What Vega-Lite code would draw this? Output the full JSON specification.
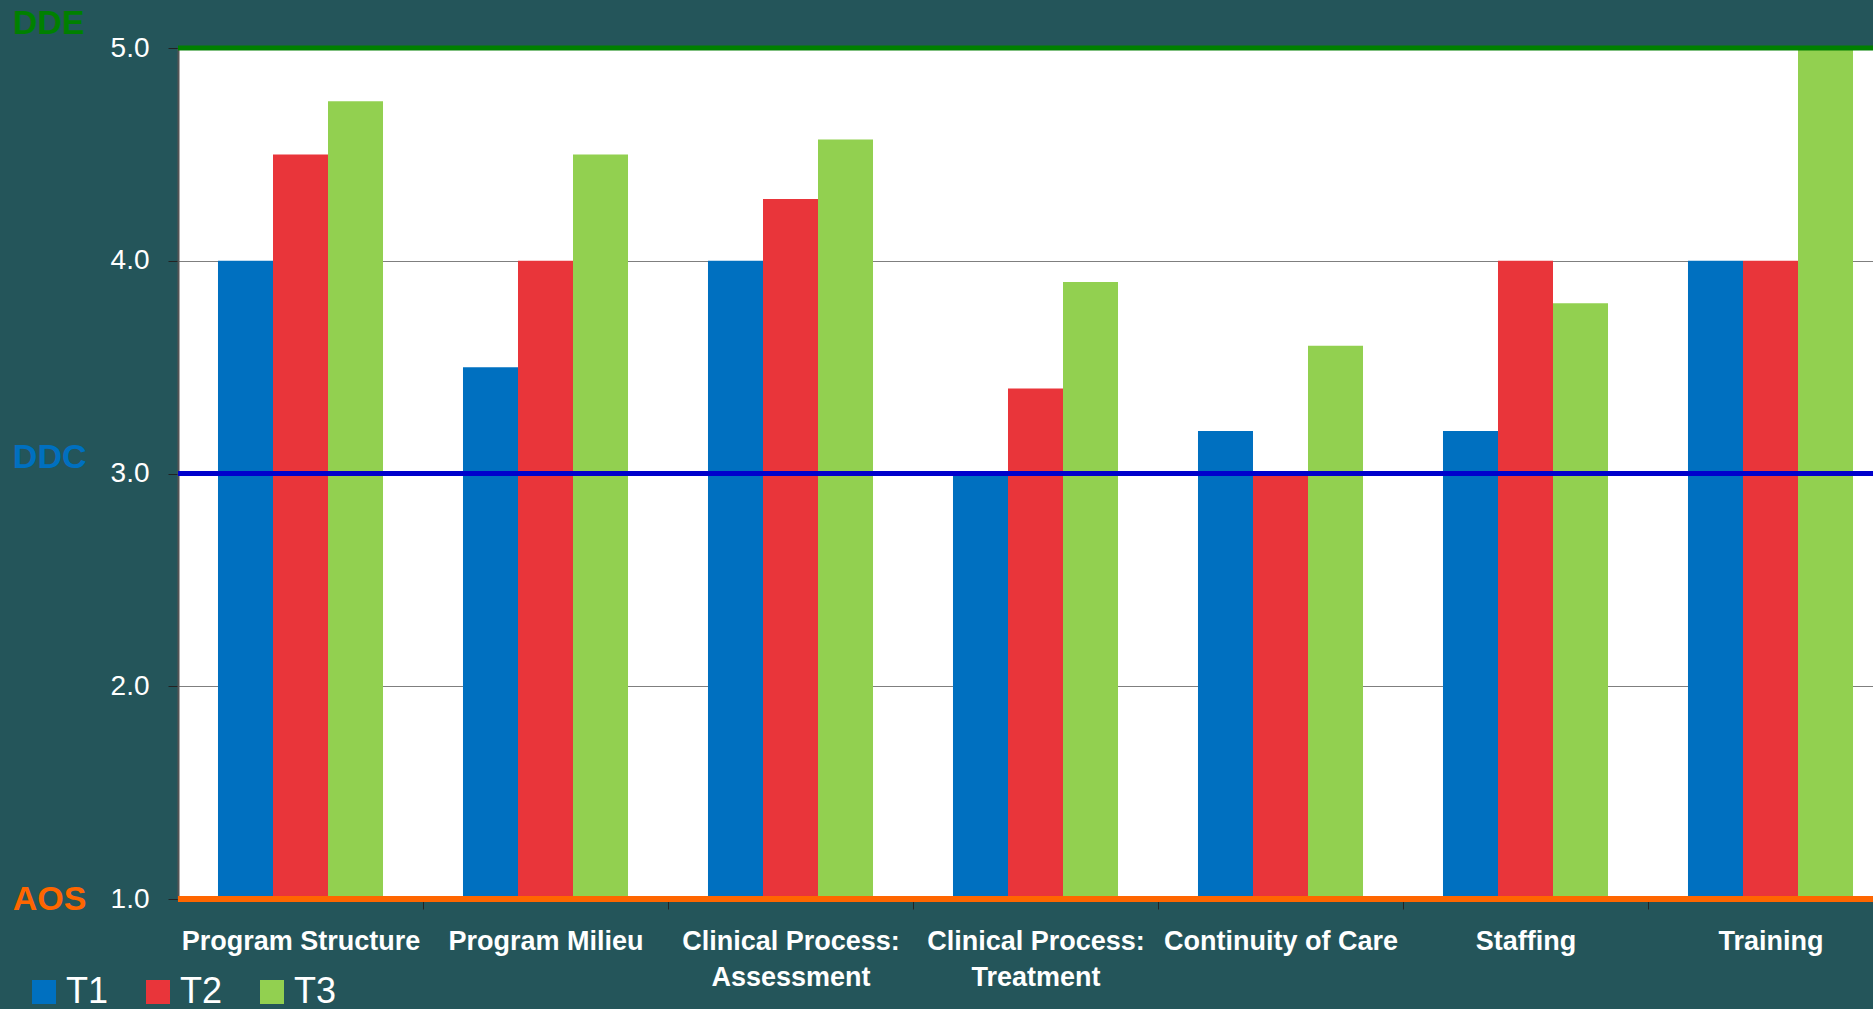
{
  "$schema": "https://vega.github.io/schema/vega-lite/v6.json",
  "width": 1695,
  "height": 851,
  "autosize": "none",
  "padding": {"left": 178, "top": 48, "right": 0, "bottom": 110},
  "background": "#24555a",
  "view": {"fill": "white", "stroke": null},
  "resolve": {"axis": {"y": "independent"}},
  "layer": [
    {
      "data": {
        "values": [
          {"category": "Program Structure", "time": "T1", "score": 4.0},
          {"category": "Program Structure", "time": "T2", "score": 4.5},
          {"category": "Program Structure", "time": "T3", "score": 4.75},
          {"category": "Program Milieu", "time": "T1", "score": 3.5},
          {"category": "Program Milieu", "time": "T2", "score": 4.0},
          {"category": "Program Milieu", "time": "T3", "score": 4.5},
          {"category": "Clinical Process: Assessment", "time": "T1", "score": 4.0},
          {"category": "Clinical Process: Assessment", "time": "T2", "score": 4.29},
          {"category": "Clinical Process: Assessment", "time": "T3", "score": 4.57},
          {"category": "Clinical Process: Treatment", "time": "T1", "score": 3.0},
          {"category": "Clinical Process: Treatment", "time": "T2", "score": 3.4},
          {"category": "Clinical Process: Treatment", "time": "T3", "score": 3.9},
          {"category": "Continuity of Care", "time": "T1", "score": 3.2},
          {"category": "Continuity of Care", "time": "T2", "score": 3.0},
          {"category": "Continuity of Care", "time": "T3", "score": 3.6},
          {"category": "Staffing", "time": "T1", "score": 3.2},
          {"category": "Staffing", "time": "T2", "score": 4.0},
          {"category": "Staffing", "time": "T3", "score": 3.8},
          {"category": "Training", "time": "T1", "score": 4.0},
          {"category": "Training", "time": "T2", "score": 4.0},
          {"category": "Training", "time": "T3", "score": 5.0}
        ]
      },
      "mark": {"type": "bar"},
      "encoding": {
        "x": {
          "field": "category",
          "type": "nominal",
          "sort": ["Program Structure", "Program Milieu", "Clinical Process: Assessment", "Clinical Process: Treatment", "Continuity of Care", "Staffing", "Training"],
          "scale": {"paddingInner": 0, "paddingOuter": 0, "range": [0, 1715]},
          "axis": {
            "title": null,
            "labelAngle": 0,
            "labelExpr": "indexof(datum.value, ': ') > 0 ? [slice(datum.value, 0, indexof(datum.value, ': ') + 1), slice(datum.value, indexof(datum.value, ': ') + 2)] : datum.value",
            "labelFont": "Liberation Sans",
            "labelFontSize": 27,
            "labelFontWeight": "bold",
            "labelColor": "white",
            "labelLineHeight": 36,
            "labelBaseline": "top",
            "labelPadding": 19,
            "labelLimit": 400,
            "tickOffset": 122.5,
            "labelOffset": -122.5,
            "tickSize": 10,
            "tickColor": "#222222",
            "domainColor": "#555555"
          }
        },
        "xOffset": {"field": "time", "type": "nominal", "scale": {"paddingInner": 0, "paddingOuter": 0.727}},
        "y": {
          "field": "score",
          "type": "quantitative",
          "scale": {"domain": [1, 5], "zero": false, "nice": false},
          "axis": {
            "orient": "left",
            "title": null,
            "values": [1, 2, 3, 4, 5],
            "format": ".1f",
            "labelFont": "Liberation Sans",
            "labelFontSize": 28,
            "labelColor": "white",
            "labelPadding": 19,
            "tickSize": 10,
            "tickColor": "#222222",
            "domainColor": "#555555",
            "domainWidth": 2,
            "gridColor": "#7f7f7f"
          }
        },
        "y2": {"datum": 1},
        "color": {
          "field": "time",
          "type": "nominal",
          "scale": {"domain": ["T1", "T2", "T3"], "range": ["#0070C0", "#E9353A", "#92D050"]},
          "legend": {
            "title": null,
            "orient": "none",
            "legendX": -152,
            "legendY": 926,
            "direction": "horizontal",
            "symbolType": "square",
            "symbolSize": 576,
            "symbolStrokeWidth": 0,
            "labelFont": "Liberation Sans",
            "labelFontSize": 36,
            "labelColor": "white",
            "labelOffset": 4,
            "columnPadding": 31
          }
        }
      }
    },
    {
      "data": {"values": [{"ref": "DDC", "value": 3}]},
      "mark": {"type": "rule", "color": "#0000CC", "strokeWidth": 5},
      "encoding": {
        "y": {
          "field": "value",
          "type": "quantitative",
          "scale": {"domain": [1, 5], "zero": false, "nice": false},
          "axis": {
            "orient": "left",
            "title": null,
            "values": [3],
            "labelExpr": "'DDC'",
            "labelFont": "Liberation Sans",
            "labelFontSize": 34,
            "labelFontWeight": "bold",
            "labelColor": "#0070C0",
            "labelOffset": -16,
            "labelPadding": 92,
            "ticks": false,
            "domain": false,
            "grid": false
          }
        }
      }
    },
    {
      "data": {"values": [{"ref": "DDE", "value": 5}]},
      "mark": {"type": "rule", "color": "#008000", "strokeWidth": 5},
      "encoding": {
        "y": {
          "field": "value",
          "type": "quantitative",
          "scale": {"domain": [1, 5], "zero": false, "nice": false},
          "axis": {
            "orient": "left",
            "title": null,
            "values": [5],
            "labelExpr": "'DDE'",
            "labelFont": "Liberation Sans",
            "labelFontSize": 34,
            "labelFontWeight": "bold",
            "labelColor": "#008000",
            "labelOffset": -25,
            "labelPadding": 94,
            "ticks": false,
            "domain": false,
            "grid": false
          }
        }
      }
    },
    {
      "data": {"values": [{"ref": "AOS", "value": 1}]},
      "mark": {"type": "rule", "color": "#FF6600", "strokeWidth": 6},
      "encoding": {
        "y": {
          "field": "value",
          "type": "quantitative",
          "scale": {"domain": [1, 5], "zero": false, "nice": false},
          "axis": {
            "orient": "left",
            "title": null,
            "values": [1],
            "labelExpr": "'AOS'",
            "labelFont": "Liberation Sans",
            "labelFontSize": 34,
            "labelFontWeight": "bold",
            "labelColor": "#FF6600",
            "labelOffset": 0,
            "labelPadding": 92,
            "ticks": false,
            "domain": false,
            "grid": false
          }
        }
      }
    }
  ]
}
